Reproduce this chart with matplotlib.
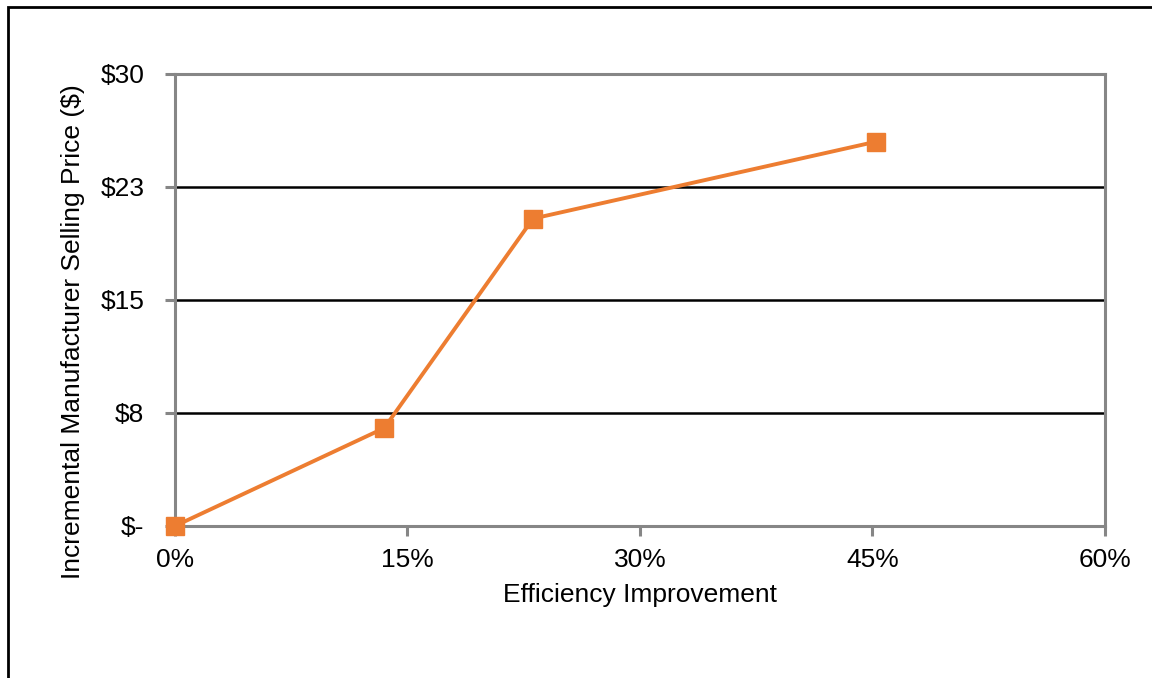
import matplotlib.pyplot as plt
from matplotlib.patches import Rectangle

plt.rcParams['font.family'] = ['Liberation Sans', 'DejaVu Sans']

# data
efficiency = [0.0, 13.5, 23.1, 45.2]
price = [0.0, 6.5, 20.4, 25.5]

x_ticks = [0, 15, 30, 45, 60]
x_labels = ['0%', '15%', '30%', '45%', '60%']
y_ticks = [0, 7.5, 15, 22.5, 30]
y_labels = ['$-', '$8', '$15', '$23', '$30']

fig = plt.figure(figsize=(11.52, 6.78), dpi=100)
ax = fig.add_axes([0.1519, 0.2242, 0.8073, 0.6667])

# outer chart frame
fig.patches.append(Rectangle((8 / 1152, -0.1), 1.2, 1 - 7 / 678 + 0.1,
                             transform=fig.transFigure, fill=False,
                             edgecolor='black', linewidth=2))

for y in y_ticks[1:-1]:
    ax.axhline(y, color='black', linewidth=1.8, zorder=1)

ax.plot(efficiency, price, color='#ED7D31', linewidth=2.8, marker='s',
        markersize=12.5, zorder=3, clip_on=False)

ax.set_xlim(0, 60)
ax.set_ylim(0, 30)
ax.set_xticks(x_ticks)
ax.set_xticklabels(x_labels)
ax.set_yticks(y_ticks)
ax.set_yticklabels(y_labels)

for s in ax.spines.values():
    s.set_color('#868686')
    s.set_linewidth(2.2)
ax.tick_params(colors='#868686', width=2.2, length=7, labelsize=19,
               labelcolor='black', direction='out')
ax.tick_params(axis='x', pad=9)
ax.tick_params(axis='y', pad=15)

ax.set_xlabel('Efficiency Improvement', fontsize=19)
ax.set_ylabel('Incremental Manufacturer Selling Price ($)', fontsize=19)
ax.xaxis.set_label_coords(0.5, -0.127)
ax.yaxis.set_label_coords(-0.097, 0.431)

fig.savefig('out.png', dpi=100)
